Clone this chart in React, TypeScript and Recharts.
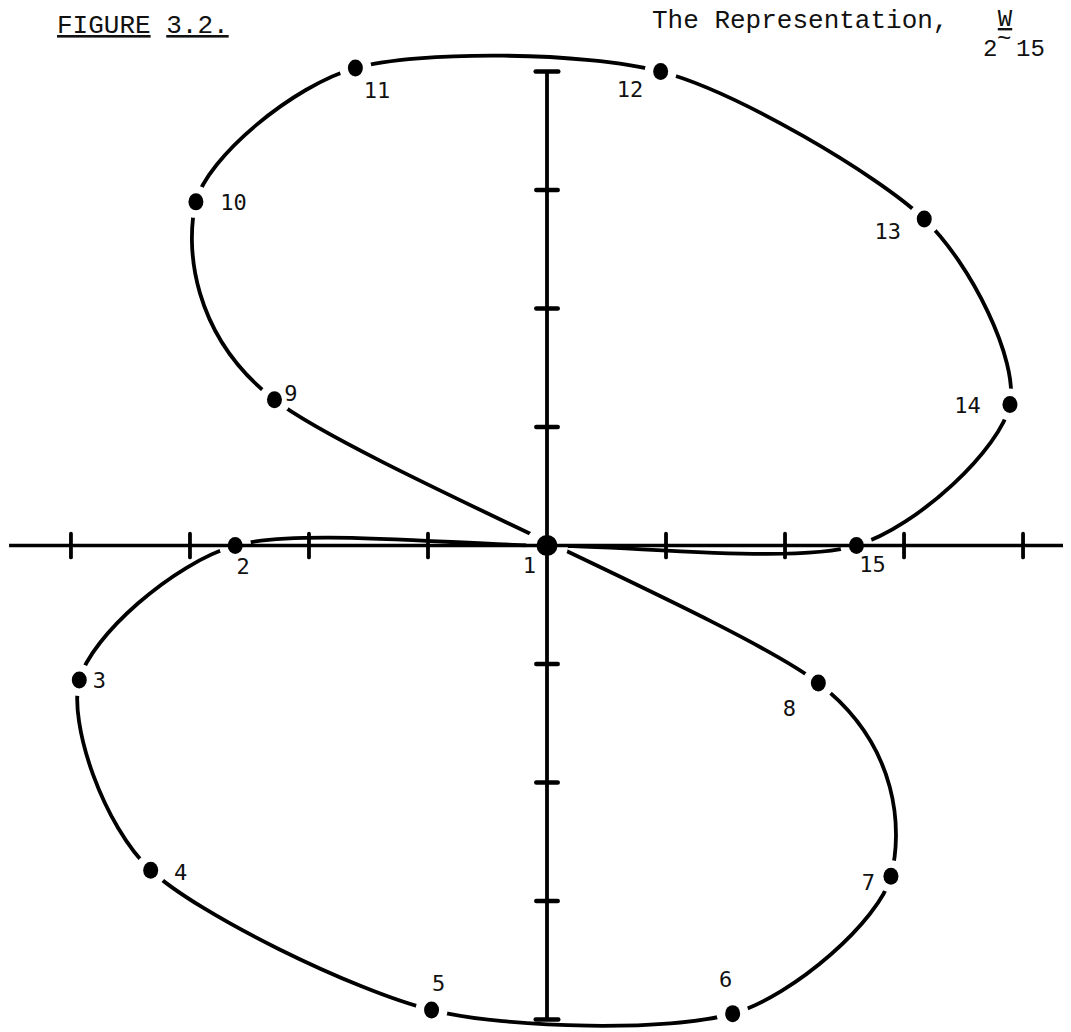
import React from 'react';
import { ComposedChart, Line, Scatter, XAxis, YAxis, ReferenceLine } from 'recharts';

// Points of the representation, numbered 1..15 in the order the curve visits them
const pointLabels = ['1', '2', '3', '4', '5', '6', '7', '8', '9', '10', '11', '12', '13', '14', '15'];
const pointX = [0, -2.62, -3.93, -3.33, -0.97, 1.56, 2.89, 2.28, -2.29, -2.95, -1.61, 0.955, 3.17, 3.89, 2.6];
const pointY = [0, 0, -1.135, -2.74, -3.92, -3.95, -2.79, -1.16, 1.23, 2.9, 4.03, 4.0, 2.755, 1.19, 0];

// Axis tick positions (unit spacing) and end caps of the vertical axis
const xTicks = [-4, -3, -2, -1, 1, 2, 3, 4];
const yTicks = [-3, -2, -1, 1, 2, 3];
const yCaps = [-4, 4];
const xAxisExtent = [-4.52, 4.4];
const yAxisExtent = [-4, 4];

const points = pointLabels.map((label, i) => ({ label, x: pointX[i], y: pointY[i] }));
// closed curve: back to point 1 after point 15
const curve = [...points, points[0]];

const INK = '#000';
const LABEL_FONT = "'DejaVu Sans Mono', monospace";
const TITLE_FONT = "'Liberation Mono', 'Courier New', monospace";

// Cardinal spline (Catmull-Rom with a tension factor); wraps around when the
// last point repeats the first, so the loop is smooth through point 1.
const cardinalLoop = (tension: number) => (context: any) => {
  let pts: [number, number][] = [];
  return {
    areaStart() {},
    areaEnd() {},
    lineStart() {
      pts = [];
    },
    point(x: number, y: number) {
      pts.push([+x, +y]);
    },
    lineEnd() {
      const n = pts.length;
      if (!n) return;
      const closed =
        n > 3 && Math.abs(pts[0][0] - pts[n - 1][0]) < 1e-6 && Math.abs(pts[0][1] - pts[n - 1][1]) < 1e-6;
      const ring = closed ? pts.slice(0, n - 1) : pts;
      const m = ring.length;
      const at = (i: number) => (closed ? ring[((i % m) + m) % m] : ring[Math.max(0, Math.min(m - 1, i))]);
      const k = tension / 6;
      context.moveTo(ring[0][0], ring[0][1]);
      const segs = closed ? m : m - 1;
      for (let i = 0; i < segs; i++) {
        const p0 = at(i - 1);
        const p1 = at(i);
        const p2 = at(i + 1);
        const p3 = at(i + 2);
        context.bezierCurveTo(
          p1[0] + (p2[0] - p0[0]) * k,
          p1[1] + (p2[1] - p0[1]) * k,
          p2[0] - (p3[0] - p1[0]) * k,
          p2[1] - (p3[1] - p1[1]) * k,
          p2[0],
          p2[1]
        );
      }
      if (closed) context.closePath();
    },
  };
};

// label placement around each dot, in pixels (centre of the text)
const LABEL_OFFSETS: Record<string, [number, number]> = {
  '1': [-17.5, 19.5],
  '2': [8, 20],
  '3': [20, 0],
  '4': [30, 2],
  '5': [7, -27],
  '6': [-7, -35],
  '7': [-22.5, 6],
  '8': [-29, 25],
  '9': [16.5, -7],
  '10': [37.5, 0],
  '11': [21.5, 22],
  '12': [-30.7, 17],
  '13': [-36.5, 11.5],
  '14': [-42.5, 0],
  '15': [16, 18.5],
};

const HaloShape = (props: any) => {
  const { cx, cy, payload } = props;
  const r = payload.label === '1' ? 21 : 16;
  return <circle cx={cx} cy={cy} r={r} fill="#fff" />;
};

const DotShape = (props: any) => {
  const { cx, cy, payload } = props;
  const big = payload.label === '1';
  const [ox, oy] = LABEL_OFFSETS[payload.label] || [12, 0];
  return (
    <g>
      <ellipse cx={cx} cy={cy} rx={big ? 10.5 : 7.5} ry={big ? 10.5 : 8.5} fill={INK} />
      <text x={cx + ox} y={cy + oy + 8} textAnchor="middle" fontFamily={LABEL_FONT} fontSize={22} fill="#111">
        {payload.label}
      </text>
    </g>
  );
};

const W = 1063;
const H = 1024;

export default function App() {
  return (
    <div style={{ position: 'relative', width: W, height: H, background: '#fff' }}>
      <ComposedChart width={W} height={H} data={curve} margin={{ top: 0, right: 0, bottom: 0, left: 0 }}>
        <XAxis type="number" dataKey="x" domain={[-4.529, 4.403]} allowDataOverflow hide />
        <YAxis type="number" dataKey="y" domain={[-4.105, 4.536]} allowDataOverflow hide />

        <Line
          data={curve}
          dataKey="y"
          type={cardinalLoop(0.8) as any}
          stroke={INK}
          strokeWidth={3.8}
          fill="none"
          dot={false}
          activeDot={false}
          isAnimationActive={false}
          zIndex={400}
        />

        <Scatter data={points} dataKey="y" shape={HaloShape} isAnimationActive={false} zIndex={450} />

        <ReferenceLine
          segment={[{ x: xAxisExtent[0], y: 0 }, { x: xAxisExtent[1], y: 0 }]}
          stroke={INK}
          strokeWidth={3.5}
          zIndex={500}
        />
        <ReferenceLine
          segment={[{ x: 0, y: yAxisExtent[0] }, { x: 0, y: yAxisExtent[1] }]}
          stroke={INK}
          strokeWidth={3.8}
          zIndex={500}
        />
        {xTicks.map((t) => (
          <ReferenceLine
            key={`xt${t}`}
            segment={[{ x: t, y: -0.1 }, { x: t, y: 0.1 }]}
            stroke={INK}
            strokeWidth={3.8}
            strokeLinecap="round"
            zIndex={500}
          />
        ))}
        {yTicks.map((t) => (
          <ReferenceLine
            key={`yt${t}`}
            segment={[{ x: -0.09, y: t }, { x: 0.09, y: t }]}
            stroke={INK}
            strokeWidth={4.5}
            strokeLinecap="round"
            zIndex={500}
          />
        ))}
        {yCaps.map((t) => (
          <ReferenceLine
            key={`yc${t}`}
            segment={[{ x: -0.095, y: t }, { x: 0.095, y: t }]}
            stroke={INK}
            strokeWidth={4.5}
            strokeLinecap="round"
            zIndex={500}
          />
        ))}

        <Scatter data={points} dataKey="y" shape={DotShape} isAnimationActive={false} zIndex={600} />
      </ComposedChart>

      <svg width={1071} height={70} style={{ position: 'absolute', left: -8, top: -8, pointerEvents: 'none' }}>
        <text x={57} y={33} fontFamily={TITLE_FONT} fontSize={26} fill="#111">
          <tspan textDecoration="underline">FIGURE</tspan>
          <tspan> </tspan>
          <tspan textDecoration="underline">3.2.</tspan>
        </text>
        <text x={652} y={28} fontFamily={TITLE_FONT} fontSize={26} fill="#111">
          The Representation,
        </text>
        <text x={1005} y={26} textAnchor="middle" fontFamily={TITLE_FONT} fontSize={24} fill="#111" textDecoration="underline">
          W
        </text>
        <text y={56} fontFamily={TITLE_FONT} fontSize={24} fill="#111">
          <tspan x={983}>2</tspan>
          <tspan x={997} dy={-10}>~</tspan>
          <tspan x={1016} dy={10}>15</tspan>
        </text>
      </svg>
    </div>
  );
}
